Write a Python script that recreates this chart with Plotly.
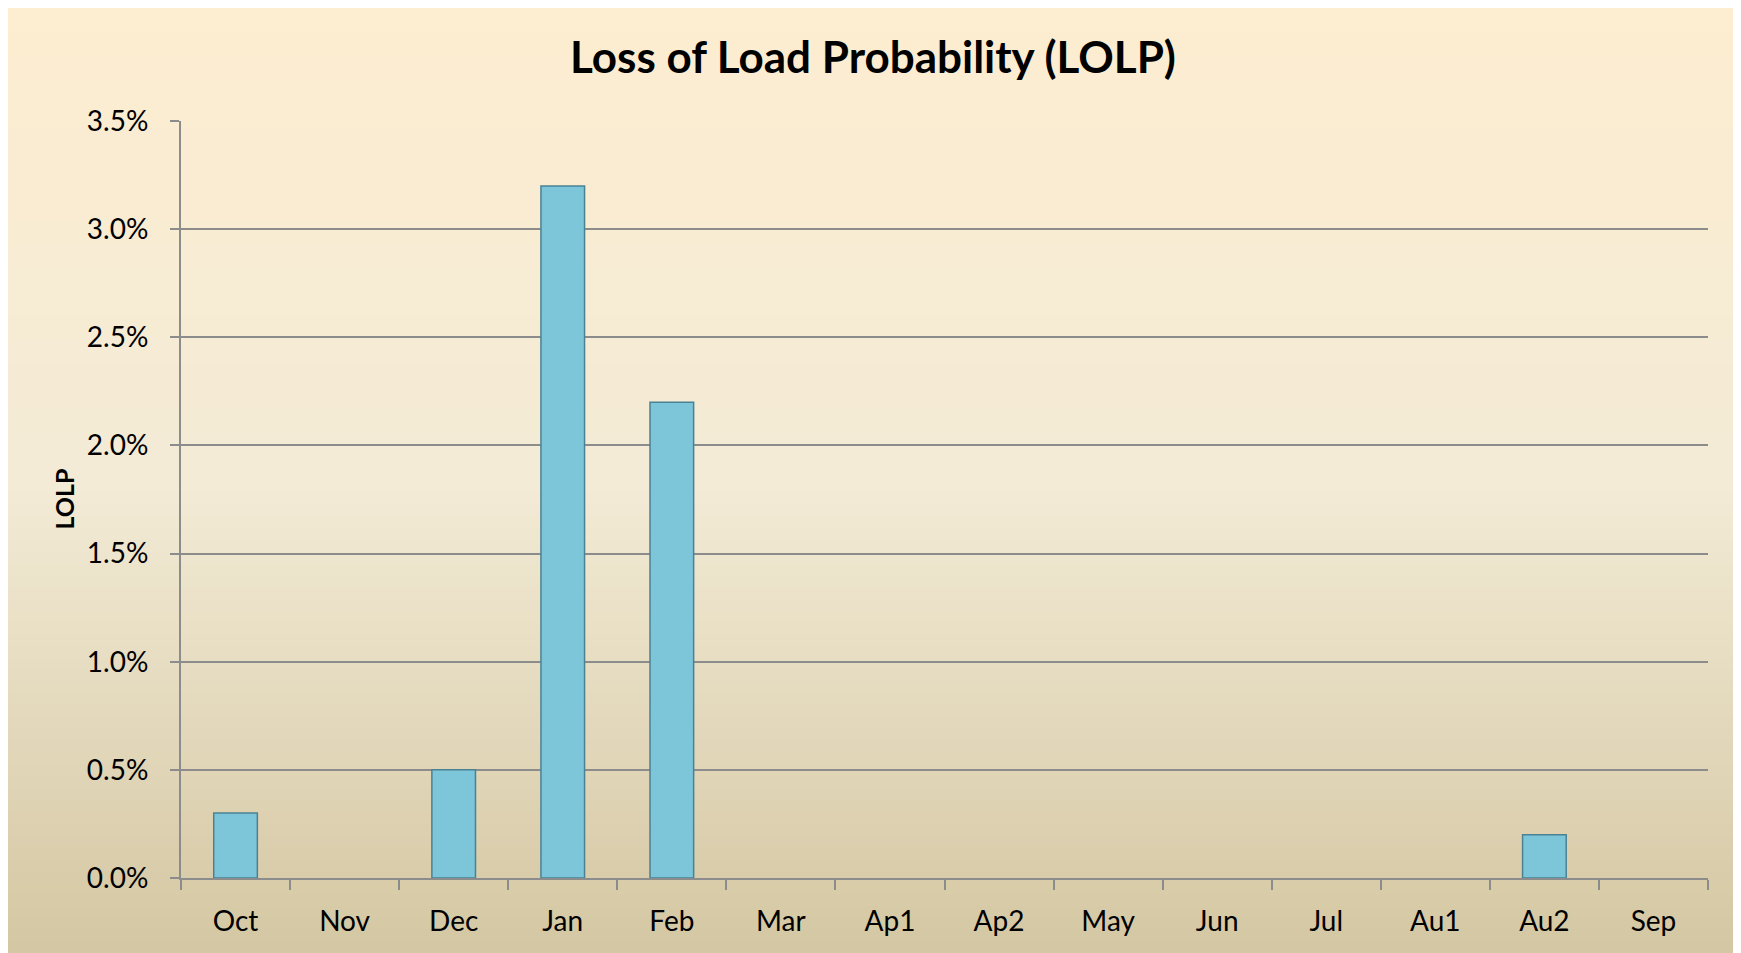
import plotly.graph_objects as go

categories = ["Oct", "Nov", "Dec", "Jan", "Feb", "Mar", "Ap1", "Ap2", "May", "Jun", "Jul", "Au1", "Au2", "Sep"]
lolp = [0.003, 0.0, 0.005, 0.032, 0.022, 0.0, 0.0, 0.0, 0.0, 0.0, 0.0, 0.0, 0.002, 0.0]
y_ticks = [0, 0.005, 0.01, 0.015, 0.02, 0.025, 0.03, 0.035]

# page is offset by the 8px body margin; figure coords = page coords - 8
OFF = 8
W, H = 1741 - OFF, 953 - OFF
L = 181 - OFF
T = 121 - OFF
R = W - (1708 - OFF)
B = H - (878 - OFF)
PW, PH = W - L - R, H - T - B

def px_x(px):
    return (px - OFF - L) / PW

def px_y(py):
    return (H - B - (py - OFF)) / PH

FONT = "Lato"

fig = go.Figure()
fig.add_trace(go.Bar(
    x=categories, y=lolp,
    marker=dict(color="#7DC5D9",
                line=dict(color="#4A8294", width=[1.5 if v > 0 else 0 for v in lolp])),
    width=0.4,
))

# gradient background bands
top = (253, 237, 209)
mid = (243, 235, 214)
bot = (212, 199, 163)
shapes = []
n = 80
y0p, y1p = 8, 953
for i in range(n):
    t = i / (n - 1)
    if t < 0.5:
        s = t / 0.5
        c = [round(top[k] + (mid[k] - top[k]) * s) for k in range(3)]
    else:
        s = (t - 0.5) / 0.5
        c = [round(mid[k] + (bot[k] - mid[k]) * s) for k in range(3)]
    ya = y0p + (y1p - y0p) * i / n
    yb = y0p + (y1p - y0p) * (i + 1) / n + 1
    shapes.append(dict(type="rect", xref="paper", yref="paper", layer="below",
                       x0=px_x(8), x1=px_x(1737), y0=px_y(yb), y1=px_y(ya),
                       fillcolor=f"rgb({c[0]},{c[1]},{c[2]})", line=dict(width=0)))

fig.update_layout(
    width=W, height=H,
    margin=dict(l=L, r=R, t=T, b=B, pad=0),
    paper_bgcolor="white",
    plot_bgcolor="rgba(0,0,0,0)",
    shapes=shapes,
    showlegend=False,
    font=dict(family=FONT, color="black"),
    title=dict(text="<b>Loss of Load Probability (LOLP)</b>", x=(873 - OFF) / W, xref="container",
               xanchor="center", y=1 - (58 - OFF) / H, yref="container", yanchor="middle",
               font=dict(size=44, family=FONT, color="black")),
    annotations=[dict(text="<b>LOLP</b>", x=px_x(63), y=0.5, xref="paper", yref="paper",
                      textangle=-90, showarrow=False, xanchor="center", yanchor="middle",
                      font=dict(size=25, family=FONT, color="black"))],
)
fig.update_xaxes(
    type="category", showline=True, linecolor="#8C8C8C", linewidth=2,
    ticks="outside", tickson="boundaries", ticklen=10, tickcolor="#8C8C8C", tickwidth=2,
    tickfont=dict(size=28, family=FONT), showgrid=False, ticklabelstandoff=17,
)
fig.update_yaxes(
    range=[0, 0.035], tickvals=y_ticks, tickformat=".1%",
    showline=True, linecolor="#8C8C8C", linewidth=2,
    ticks="outside", ticklen=9, tickcolor="#8C8C8C", tickwidth=2,
    showgrid=True, gridcolor="#8C8C8C", gridwidth=2, zeroline=False,
    tickfont=dict(size=28, family=FONT), ticklabelstandoff=16,
)
fig.write_html("out.html")
